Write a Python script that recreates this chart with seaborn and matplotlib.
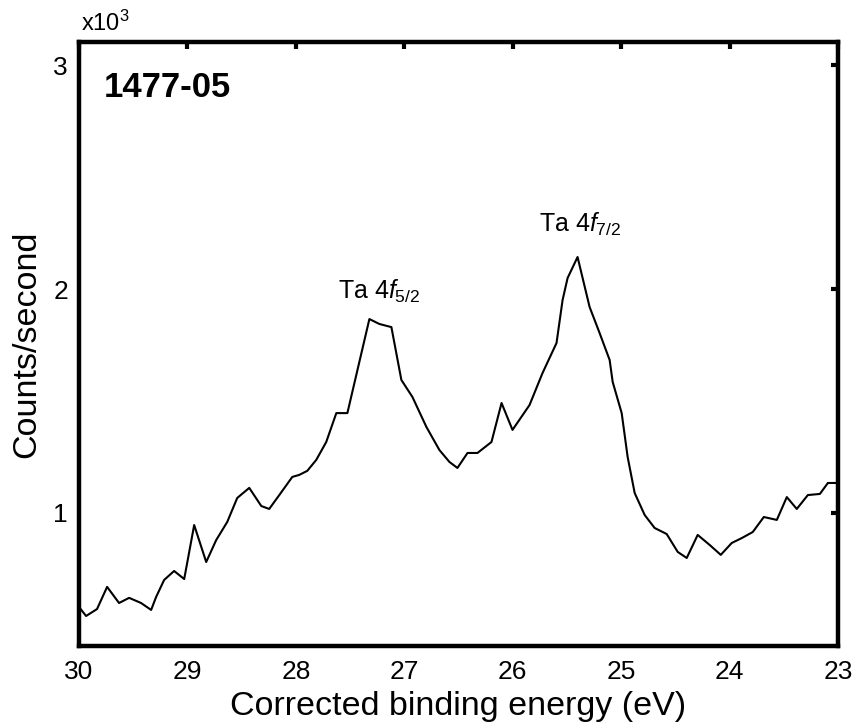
import matplotlib
matplotlib.use("Agg")
import matplotlib.pyplot as plt
import seaborn as sns
import pandas as pd

energy = [30.0, 29.935, 29.834, 29.741, 29.631, 29.538, 29.428, 29.335, 29.289, 29.215,
          29.123, 29.030, 28.938, 28.827, 28.735, 28.633, 28.541, 28.430, 28.319, 28.246,
          28.153, 28.033, 27.969, 27.895, 27.812, 27.720, 27.627, 27.525, 27.322, 27.230,
          27.119, 27.027, 26.925, 26.796, 26.676, 26.584, 26.510, 26.417, 26.325, 26.196,
          26.103, 26.002, 25.845, 25.725, 25.596, 25.540, 25.494, 25.402, 25.291, 25.199,
          25.106, 25.078, 24.995, 24.940, 24.875, 24.783, 24.691, 24.580, 24.478, 24.395,
          24.294, 24.183, 24.081, 23.980, 23.887, 23.786, 23.684, 23.564, 23.472, 23.380,
          23.278, 23.167, 23.093, 23.0]
counts_k = [0.580, 0.540, 0.571, 0.670, 0.598, 0.621, 0.598, 0.567, 0.625, 0.701,
            0.741, 0.705, 0.946, 0.781, 0.879, 0.960, 1.067, 1.112, 1.031, 1.018,
            1.080, 1.161, 1.170, 1.188, 1.237, 1.317, 1.446, 1.446, 1.866, 1.844,
            1.830, 1.594, 1.518, 1.384, 1.281, 1.228, 1.201, 1.268, 1.268, 1.317,
            1.491, 1.371, 1.482, 1.625, 1.759, 1.951, 2.049, 2.143, 1.920, 1.804,
            1.683, 1.585, 1.446, 1.250, 1.089, 0.991, 0.933, 0.906, 0.826, 0.799,
            0.902, 0.857, 0.813, 0.866, 0.888, 0.915, 0.982, 0.969, 1.071, 1.018,
            1.080, 1.085, 1.134, 1.134]

x_ticks = [30, 29, 28, 27, 26, 25, 24, 23]
y_ticks = [1, 2, 3]
sample_label = "1477-05"
peak_labels = ["Ta 4$\\mathit{f}_{5/2}$", "Ta 4$\\mathit{f}_{7/2}$"]
peak_pos = [(27.23, 1.99), (25.38, 2.29)]

sns.set_style("white")
plt.rcParams['font.family'] = ['Liberation Sans', 'DejaVu Sans']
plt.rcParams['mathtext.fontset'] = 'custom'
plt.rcParams['mathtext.rm'] = 'Liberation Sans'
plt.rcParams['mathtext.it'] = 'Liberation Sans:italic'
plt.rcParams['text.color'] = 'black'
plt.rcParams['axes.labelcolor'] = 'black'

fig = plt.figure(figsize=(8.6, 7.26), dpi=100)
ax = fig.add_axes([0.0919, 0.1102, 0.8825, 0.8319])

df = pd.DataFrame({"energy": energy, "counts": counts_k})
sns.lineplot(data=df, x="energy", y="counts", ax=ax, color="black", linewidth=1.5, sort=False)

ax.set_xlim(30, 23)
ax.set_ylim(0.406, 3.103)
ax.set_xticks(x_ticks)
ax.set_xticklabels([str(t) for t in x_ticks])
ax.set_yticks(y_ticks)
ax.set_yticklabels([str(t) for t in y_ticks])
ax.tick_params(direction="in", length=5, width=3, top=True, right=True,
               labelsize=19, colors="black")
ax.tick_params(axis="x", pad=10)
ax.tick_params(axis="y", pad=8)
for s in ax.spines.values():
    s.set_linewidth(3.2)
    s.set_color("black")

ax.set_xlabel("Corrected binding energy (eV)", fontsize=24.5, labelpad=5, color="black")
ax.set_ylabel("Counts/second", fontsize=24.5, labelpad=8, color="black")

ax.text(0.002, 1.01, "x10$^{3}$", transform=ax.transAxes, fontsize=17, ha="left", va="bottom",
        color="black")
ax.text(0.032, 0.925, sample_label, transform=ax.transAxes, fontsize=25, fontweight="bold",
        ha="left", va="center", color="black")
for lab, (px, py) in zip(peak_labels, peak_pos):
    ax.text(px, py, lab, fontsize=18, ha="center", va="center", color="black")

fig.savefig("out.png", dpi=100)
